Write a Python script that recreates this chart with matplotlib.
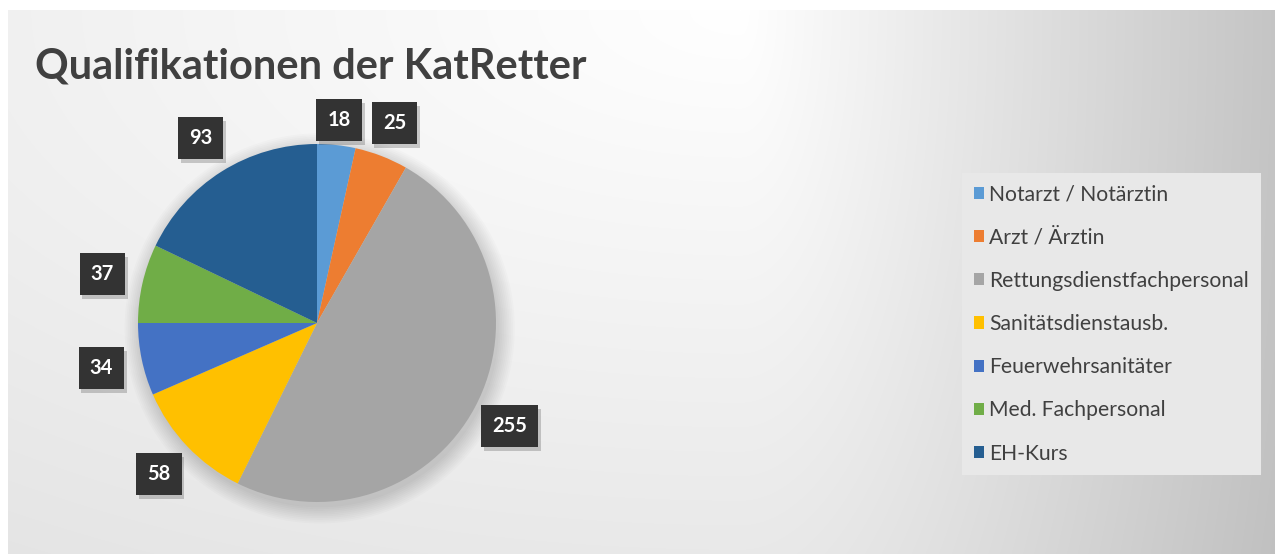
import numpy as np
import matplotlib.pyplot as plt
import matplotlib.patheffects as pe
from matplotlib.patches import Circle

plt.rcParams['font.family'] = ['Lato', 'DejaVu Sans']

# data
categories = ['Notarzt / Notärztin', 'Arzt / Ärztin', 'Rettungsdienstfachpersonal',
              'Sanitätsdienstausb.', 'Feuerwehrsanitäter', 'Med. Fachpersonal', 'EH-Kurs']
values = [18, 25, 255, 58, 34, 37, 93]
colors = ['#5B9BD5', '#ED7D31', '#A5A5A5', '#FFC000', '#4472C4', '#70AD47', '#255E91']
title = 'Qualifikationen der KatRetter'

W, H = 1275, 554
fig = plt.figure(figsize=(W / 100, H / 100), dpi=100)
fig.patch.set_facecolor('white')

# slide background: soft grey gradient, brightest near the top middle
bg = fig.add_axes([0, 0, 1, 1])
bg.set_axis_off()
yy, xx = np.mgrid[0:H, 0:W]
dx = xx - 740.0
rx = np.where(dx < 0, 3100.0, 560.0)
d = np.sqrt((dx / rx) ** 2 + ((yy - 10) / 1500.0) ** 2)
v = 1 - 0.24 * np.clip(d, 0, 1.1)
img = np.dstack([v, v, v])
img[:10, :] = 1
img[:, :8] = 1
bg.imshow(img, extent=(0, W, H, 0), aspect='auto', interpolation='bilinear')
bg.set_xlim(0, W)
bg.set_ylim(H, 0)

fig.text(35 / W, 1 - 78 / H, title, fontsize=30, fontweight='bold',
         color='#404040', va='baseline')

# pie axes, centre and radius in pixels
cx, cy, r = 317, H - 323, 179
L = 1.4
ax = fig.add_axes([(cx - L * r) / W, (cy - L * r) / H, 2 * L * r / W, 2 * L * r / H])

for i in range(10):
    ax.add_patch(Circle((0.015, -0.03), 1 + 0.01 * i, color='k', alpha=0.015, lw=0))

total = sum(values)
wedges, texts, autotexts = ax.pie(
    values, colors=colors, startangle=90, counterclock=False, radius=1,
    autopct=lambda p: f'{p * total / 100:.0f}', pctdistance=1.2,
    wedgeprops=dict(linewidth=0))
ax.set_xlim(-L, L)
ax.set_ylim(-L, L)
ax.set_axis_off()

label_r = [1.14, 1.2, 1.22, 1.22, 1.23, 1.23, 1.22]
for t, w, lr in zip(autotexts, wedges, label_r):
    a = np.deg2rad((w.theta1 + w.theta2) / 2)
    t.set_position((lr * np.cos(a), lr * np.sin(a)))
    t.set_color('white')
    t.set_fontweight('bold')
    t.set_fontsize(14.5)
    t.set_bbox(dict(boxstyle='square,pad=0.55', fc='#333333', ec='none'))
    t.get_bbox_patch().set_path_effects(
        [pe.SimplePatchShadow(offset=(2, -3), alpha=0.2), pe.Normal()])

leg = fig.legend(wedges, categories, loc='center left',
                 bbox_to_anchor=(962 / W, 1 - 324 / H),
                 frameon=True, fancybox=False, facecolor='#e8e8e8',
                 edgecolor='none', framealpha=1, fontsize=15.2,
                 labelspacing=1.1, handlelength=0.5, handleheight=0.5,
                 handletextpad=0.25, borderpad=0.55, borderaxespad=0)
for t in leg.get_texts():
    t.set_color('#404040')

fig.savefig('out.png', dpi=100)
